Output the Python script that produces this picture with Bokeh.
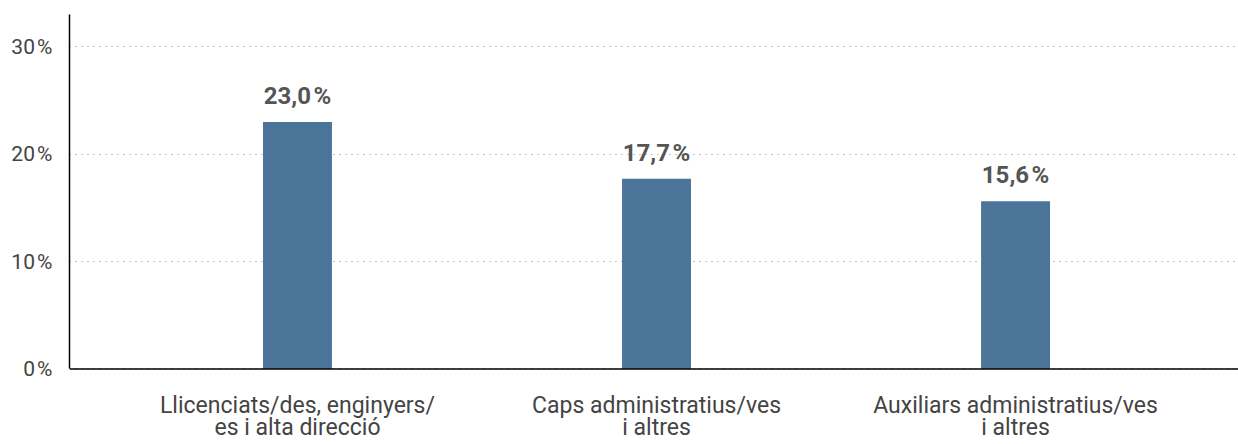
from bokeh.plotting import figure
from bokeh.models import ColumnDataSource, FixedTicker, Range1d, Span
from bokeh.core.properties import value
from bokeh.embed import file_html
from bokeh.resources import INLINE

categories = ["Llicenciats/des, enginyers/\nes i alta direcció",
              "Caps administratius/ves\ni altres",
              "Auxiliars administratius/ves\ni altres"]
values = [23.0, 17.7, 15.6]
value_labels = ["23,0\u200a%", "17,7\u200a%", "15,6\u200a%"]
y_ticks = [0, 10, 20, 30]
y_tick_labels = ["0\u200a%", "10\u200a%", "20\u200a%", "30\u200a%"]

xs = list(range(len(categories)))
line1 = [c.split("\n")[0] for c in categories]
line2 = [c.split("\n")[1] for c in categories]
src = ColumnDataSource(dict(x=xs, base=[0] * len(xs), top=values,
                            lab=value_labels, l1=line1, l2=line2))

FONT = "Roboto"
Y_MAX = 33
p = figure(width=1238, height=444, output_backend="svg", toolbar_location=None,
           x_range=Range1d(-0.635, 2.621), y_range=Range1d(-7.04, Y_MAX),
           min_border_left=69, min_border_right=0, min_border_top=14, min_border_bottom=0)
p.outline_line_color = None
p.xaxis.visible = False

p.vbar(x="x", top="top", width=0.192, bottom="base", source=src,
       fill_color="#4a7599", line_color=None)
p.text(x="x", y="top", text="lab", source=src, y_offset=-26,
       text_align="center", text_baseline="alphabetic",
       text_font=value(FONT), text_font_size="24px", text_font_style="bold",
       text_color="#555555")

for col, off in (("l1", 37), ("l2", 59)):
    p.text(x="x", y="base", text=col, source=src, y_offset=off,
           text_align="center", text_baseline="alphabetic",
           text_font=value(FONT), text_font_size="23px", text_color="#444444")

p.add_layout(Span(location=0, dimension="width", line_color="black", line_width=1.5))

p.yaxis.ticker = FixedTicker(ticks=y_ticks)
p.yaxis.major_label_overrides = {t: l for t, l in zip(y_ticks, y_tick_labels)}
p.yaxis.bounds = (0, Y_MAX)
p.yaxis.axis_line_color = "black"
p.yaxis.axis_line_width = 1.5
p.yaxis.major_tick_line_color = None
p.yaxis.minor_tick_line_color = None
p.yaxis.major_tick_out = 0
p.yaxis.major_tick_in = 0
p.yaxis.minor_tick_out = 0
p.yaxis.major_label_text_font = FONT
p.yaxis.major_label_text_font_size = "21px"
p.yaxis.major_label_text_color = "#444444"
p.yaxis.major_label_standoff = 17

p.xgrid.grid_line_color = None
p.ygrid.ticker = FixedTicker(ticks=y_ticks)
p.ygrid.grid_line_color = "#888888"
p.ygrid.grid_line_dash = "1 5"
p.ygrid.grid_line_width = 1.2

open("out.html", "w").write(file_html(p, INLINE))
